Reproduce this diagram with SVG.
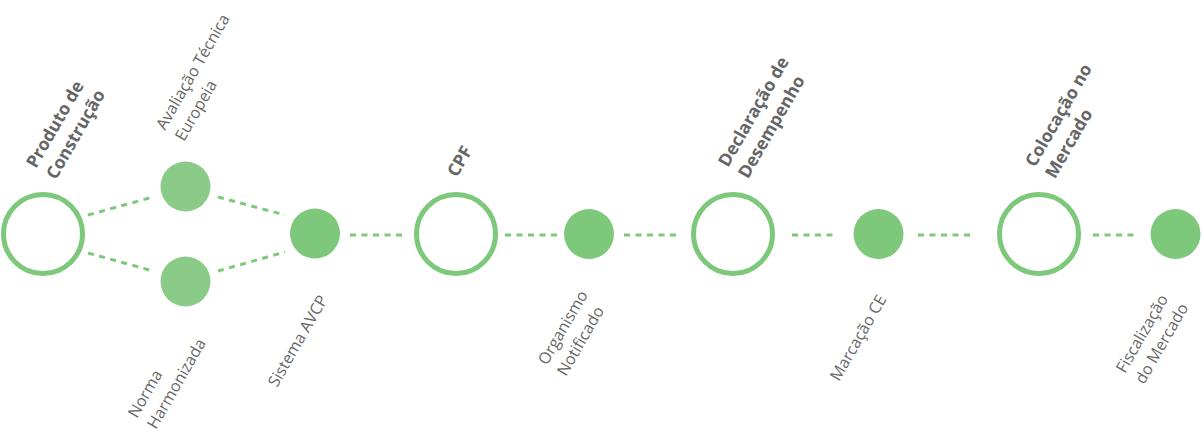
<svg xmlns="http://www.w3.org/2000/svg" width="1204" height="442" viewBox="0 0 1204 442">
<style>
.big{fill:#fff;stroke:#7ec87b;stroke-width:5}
.dot{fill:#7ec87b}
.dotl{fill:#8acc87}
.dash{stroke:#7ec87b;stroke-width:3;stroke-dasharray:6 5.5;fill:none}
.lb{font-family:"Open Sans",sans-serif;font-weight:bold;font-size:17.5px;fill:#666}
.lr{font-family:"Open Sans",sans-serif;font-size:16px;fill:#666}
</style>
<rect width="1204" height="442" fill="#fff"/>
<g id="connectors">
<line class="dash" x1="88" y1="215" x2="153" y2="197"/>
<line class="dash" x1="218" y1="197" x2="285" y2="215"/>
<line class="dash" x1="88" y1="253" x2="153" y2="271"/>
<line class="dash" x1="218" y1="271" x2="285" y2="252"/>
<line class="dash" x1="350" y1="235" x2="402" y2="235"/>
<line class="dash" x1="505" y1="235" x2="557" y2="235"/>
<line class="dash" x1="624" y1="235" x2="678" y2="235"/>
<line class="dash" x1="792" y1="235" x2="834" y2="235"/>
<line class="dash" x1="918" y1="235" x2="973" y2="235"/>
<line class="dash" x1="1093" y1="235" x2="1137" y2="235"/>
</g>
<g id="produto">
<circle class="big" cx="43" cy="234" r="39.5"/>
<text class="lb" transform="translate(36,169) rotate(-60)"><tspan x="0" y="0">Produto de</tspan><tspan x="0" y="23">Construção</tspan></text>
</g>
<g id="avaliacao">
<circle class="dotl" cx="185.5" cy="186.5" r="25"/>
<text class="lr" transform="translate(165,131) rotate(-60)"><tspan x="0" y="0">Avaliação Técnica</tspan><tspan x="0" y="22">Europeia</tspan></text>
</g>
<g id="norma">
<circle class="dotl" cx="185.5" cy="281.5" r="25"/>
<text class="lr" transform="translate(137,419) rotate(-60)"><tspan x="0" y="0">Norma</tspan><tspan x="0" y="22">Harmonizada</tspan></text>
</g>
<g id="avcp">
<circle class="dot" cx="315" cy="233.5" r="25"/>
<text class="lr" transform="translate(277,388) rotate(-60)">Sistema AVCP</text>
</g>
<g id="cpf">
<circle class="big" cx="456" cy="234" r="39.5"/>
<text class="lb" transform="translate(457,178) rotate(-60)">CPF</text>
</g>
<g id="organismo">
<circle class="dot" cx="589" cy="234" r="25"/>
<text class="lr" transform="translate(547,366) rotate(-60)"><tspan x="0" y="0">Organismo</tspan><tspan x="0" y="22">Notificado</tspan></text>
</g>
<g id="declaracao">
<circle class="big" cx="733" cy="234" r="39.5"/>
<text class="lb" transform="translate(728,168) rotate(-60)"><tspan x="0" y="0">Declaração de</tspan><tspan x="0" y="23">Desempenho</tspan></text>
</g>
<g id="marcacao">
<circle class="dot" cx="878.5" cy="234" r="25"/>
<text class="lr" transform="translate(839,382) rotate(-60)">Marcação CE</text>
</g>
<g id="colocacao">
<circle class="big" cx="1039" cy="234" r="39.5"/>
<text class="lb" transform="translate(1035,168) rotate(-60)"><tspan x="0" y="0">Colocação no</tspan><tspan x="0" y="23">Mercado</tspan></text>
</g>
<g id="fiscalizacao">
<circle class="dot" cx="1175.5" cy="234" r="25"/>
<text class="lr" transform="translate(1125,374) rotate(-60)"><tspan x="0" y="0">Fiscalização</tspan><tspan x="0" y="22">do Mercado</tspan></text>
</g>
</svg>
